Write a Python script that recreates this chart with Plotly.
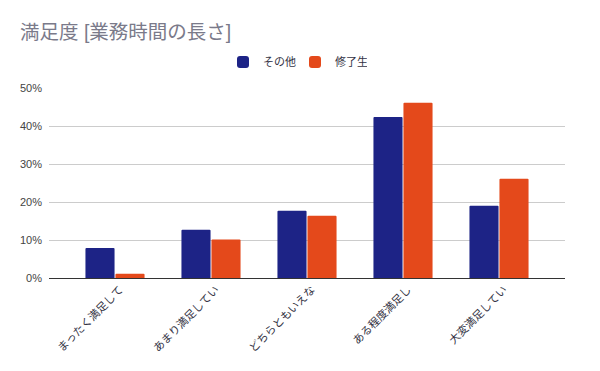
import plotly.graph_objects as go

categories = ["まったく満足して", "あまり満足してい", "どちらともいえな", "ある程度満足し", "大変満足してい"]
series_names = ["その他", "修了生"]
other_values = [0.079, 0.127, 0.177, 0.424, 0.190]
grad_values = [0.011, 0.101, 0.164, 0.461, 0.261]
y_tick_vals = [0, 0.1, 0.2, 0.3, 0.4, 0.5]
y_tick_text = ["0%", "10%", "20%", "30%", "40%", "50%"]

FONT = "Liberation Sans, Noto Sans CJK JP"
# page body has an 8px margin; figure is sized to fill the remaining window
W, H = 592, 363

fig = go.Figure()
fig.add_trace(go.Bar(x=categories, y=other_values, name=series_names[0],
                     marker=dict(color="#1d2386", line=dict(width=0))))
fig.add_trace(go.Bar(x=categories, y=grad_values, name=series_names[1],
                     marker=dict(color="#e4491b", line=dict(width=0))))

fig.update_layout(
    width=W, height=H,
    paper_bgcolor="white", plot_bgcolor="white",
    margin=dict(l=41, r=35, t=80, b=93, autoexpand=False),
    font=dict(family=FONT, color="#444444", size=11),
    title=dict(text="満足度 [業務時間の長さ]", x=12/W, xanchor="left", xref="container",
               y=1 - 24/H, yanchor="middle", yref="container", pad=dict(l=0, r=0, t=0, b=0),
               font=dict(family=FONT, size=19.5, color="#7a7a8a")),
    barmode="group", bargap=0.375, bargroupgap=0.03,
    barcornerradius=1,
    showlegend=True,
    legend=dict(orientation="h", x=287/W, xanchor="center", xref="container",
                y=1 - 54/H, yanchor="middle", yref="container",
                font=dict(family="Noto Sans CJK JP", size=11, color="#333344"),
                itemwidth=30, entrywidth=27, traceorder="normal"),
    xaxis=dict(type="category", range=[-0.6875, 4.6875], showgrid=False, automargin=False,
               tickangle=-45, ticks="", showline=True, linecolor="#333333", linewidth=1,
               ticklabelshift=5,
               tickfont=dict(family="Noto Sans CJK JP", size=11, color="#333344")),
    yaxis=dict(range=[0, 0.5], tickvals=y_tick_vals, ticktext=y_tick_text, automargin=False,
               showgrid=True, gridcolor="#cccccc", gridwidth=1, zeroline=True,
               zerolinecolor="#333333", zerolinewidth=1, ticks="", ticklabelstandoff=6,
               tickfont=dict(family="Liberation Sans", size=11, color="#444444")),
)

fig.write_html("out.html")
